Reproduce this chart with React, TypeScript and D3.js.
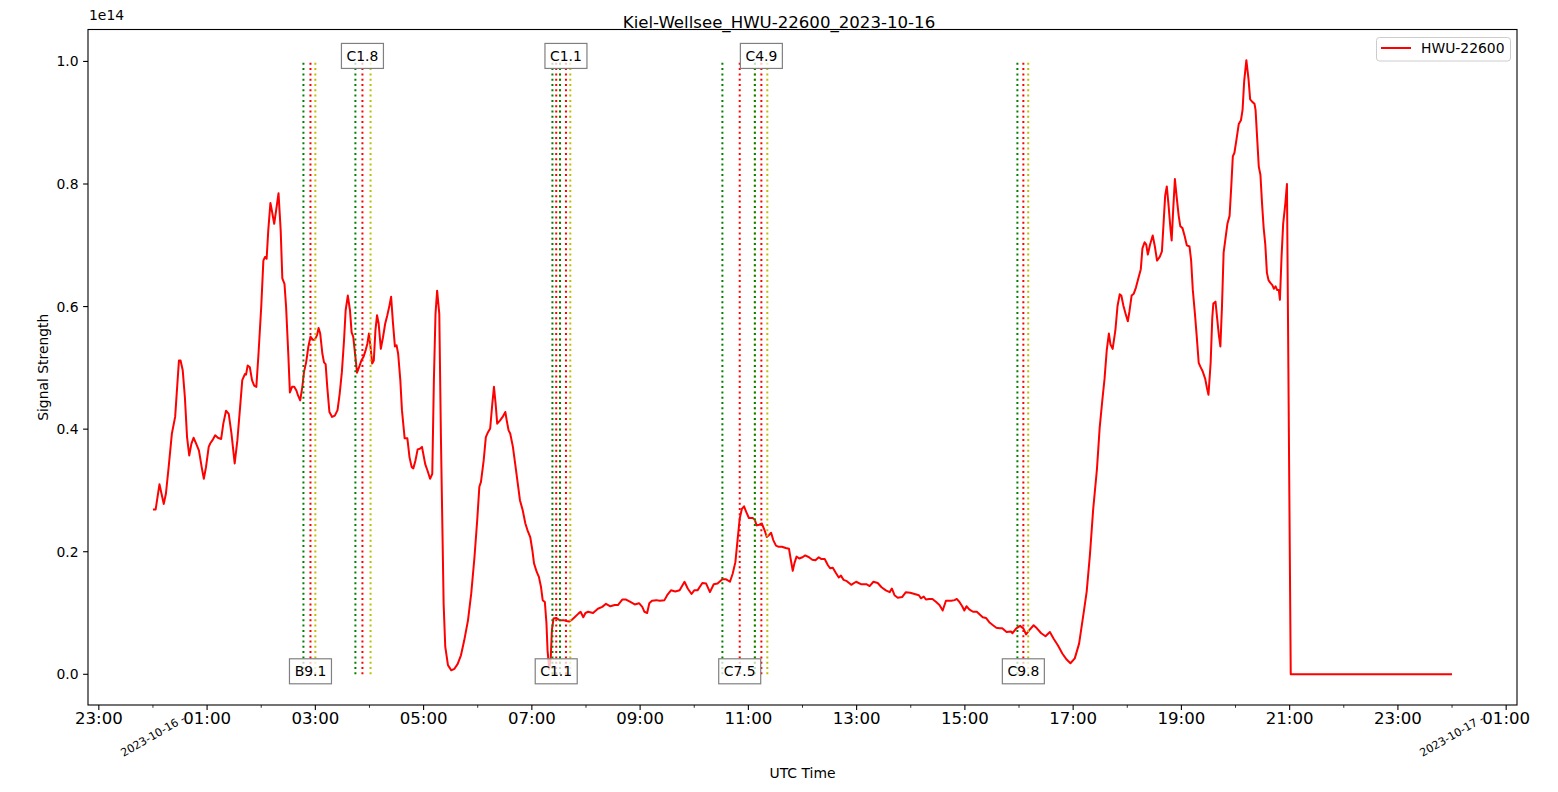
import * as d3 from 'd3';

const WIDTH = 1558;
const HEIGHT = 792;
const MARGIN = { top: 29.5, right: 41, bottom: 87, left: 88 };
const FONT = 'DejaVu Sans, sans-serif';

const TITLE = 'Kiel-Wellsee_HWU-22600_2023-10-16';
const SERIES_NAME = 'HWU-22600';
const DAY0 = Date.UTC(2023, 9, 16);

// hours since 2023-10-16 00:00 UTC
const HOURS = [
  0.0, 0.05, 0.12, 0.2, 0.24, 0.29, 0.35, 0.41, 0.48, 0.51, 0.55, 0.59, 0.63, 0.67, 0.71, 0.75, 0.8, 0.85, 0.9, 0.94,
  0.98, 1.03, 1.06, 1.1, 1.15, 1.2, 1.26, 1.3, 1.35, 1.4, 1.45, 1.51, 1.56, 1.61, 1.65, 1.7, 1.72, 1.75, 1.79, 1.83,
  1.87, 1.91, 1.95, 2.0, 2.04, 2.07, 2.1, 2.13, 2.17, 2.19, 2.24, 2.28, 2.32, 2.36, 2.39, 2.43, 2.46, 2.5, 2.53, 2.57,
  2.61, 2.65, 2.68, 2.72, 2.76, 2.79, 2.83, 2.87, 2.91, 2.95, 2.99, 3.03, 3.06, 3.09, 3.13, 3.16, 3.19, 3.22, 3.26, 3.31,
  3.36, 3.41, 3.45, 3.49, 3.53, 3.56, 3.6, 3.64, 3.67, 3.7, 3.74, 3.77, 3.82, 3.85, 3.89, 3.93, 3.96, 3.99, 4.02, 4.05,
  4.08, 4.11, 4.14, 4.17, 4.21, 4.25, 4.29, 4.33, 4.37, 4.4, 4.43, 4.47, 4.5, 4.53, 4.57, 4.6, 4.65, 4.7, 4.74, 4.78,
  4.81, 4.85, 4.89, 4.93, 4.97, 5.0, 5.03, 5.07, 5.12, 5.16, 5.19, 5.22, 5.25, 5.29, 5.32, 5.35, 5.37, 5.4, 5.45, 5.51,
  5.57, 5.63, 5.69, 5.75, 5.82, 5.88, 5.94, 5.99, 6.03, 6.06, 6.11, 6.15, 6.19, 6.23, 6.27, 6.3, 6.33, 6.36, 6.41, 6.46,
  6.51, 6.54, 6.57, 6.6, 6.65, 6.7, 6.74, 6.78, 6.83, 6.88, 6.92, 6.97, 7.01, 7.04, 7.09, 7.13, 7.17, 7.2, 7.24, 7.27,
  7.29, 7.32, 7.35, 7.37, 7.4, 7.45, 7.5, 7.55, 7.6, 7.64, 7.69, 7.74, 7.79, 7.86, 7.9, 7.95, 7.99, 8.04, 8.13, 8.22,
  8.3, 8.37, 8.45, 8.53, 8.59, 8.67, 8.74, 8.82, 8.9, 8.98, 9.04, 9.08, 9.13, 9.17, 9.22, 9.3, 9.36, 9.45, 9.5, 9.57,
  9.65, 9.73, 9.82, 9.88, 9.95, 10.0, 10.06, 10.15, 10.22, 10.29, 10.36, 10.43, 10.52, 10.59, 10.66, 10.71, 10.76, 10.8, 10.84, 10.88,
  10.92, 10.96, 11.01, 11.08, 11.12, 11.15, 11.2, 11.25, 11.3, 11.34, 11.38, 11.42, 11.46, 11.51, 11.56, 11.62, 11.69, 11.75, 11.78, 11.82,
  11.85, 11.89, 11.94, 12.0, 12.05, 12.12, 12.18, 12.24, 12.3, 12.35, 12.41, 12.47, 12.51, 12.56, 12.62, 12.67, 12.71, 12.76, 12.82, 12.9,
  12.99, 13.08, 13.18, 13.24, 13.31, 13.39, 13.46, 13.54, 13.61, 13.65, 13.7, 13.76, 13.84, 13.91, 13.99, 14.07, 14.15, 14.19, 14.24, 14.28,
  14.34, 14.4, 14.47, 14.53, 14.59, 14.65, 14.75, 14.81, 14.85, 14.9, 14.95, 14.99, 15.03, 15.08, 15.15, 15.22, 15.27, 15.33, 15.39, 15.45,
  15.52, 15.58, 15.64, 15.69, 15.77, 15.85, 15.88, 15.95, 16.02, 16.08, 16.13, 16.19, 16.27, 16.33, 16.41, 16.49, 16.57, 16.64, 16.72, 16.8,
  16.88, 16.95, 17.03, 17.11, 17.2, 17.25, 17.31, 17.37, 17.44, 17.49, 17.54, 17.58, 17.62, 17.66, 17.69, 17.73, 17.78, 17.82, 17.86, 17.89,
  17.93, 17.97, 18.01, 18.04, 18.08, 18.12, 18.16, 18.21, 18.25, 18.28, 18.32, 18.35, 18.38, 18.42, 18.47, 18.51, 18.55, 18.6, 18.64, 18.67,
  18.7, 18.73, 18.76, 18.8, 18.82, 18.85, 18.88, 18.91, 18.95, 18.98, 19.02, 19.06, 19.1, 19.15, 19.18, 19.21, 19.25, 19.28, 19.32, 19.35,
  19.39, 19.44, 19.47, 19.5, 19.54, 19.57, 19.59, 19.63, 19.66, 19.69, 19.72, 19.75, 19.78, 19.82, 19.85, 19.89, 19.92, 19.95, 19.98, 20.02,
  20.06, 20.1, 20.13, 20.16, 20.2, 20.24, 20.27, 20.31, 20.35, 20.37, 20.4, 20.43, 20.46, 20.49, 20.52, 20.55, 20.58, 20.61, 20.64, 20.68,
  20.71, 20.74, 20.77, 20.8, 20.82, 20.85, 20.88, 20.92, 20.95, 21.02, 24.0,
];

// signal strength, units of 1e14
const SIGNAL = [
  0.269, 0.269, 0.31, 0.278, 0.295, 0.338, 0.393, 0.42, 0.512, 0.512, 0.496, 0.452, 0.387, 0.357, 0.376, 0.386, 0.376, 0.365, 0.338, 0.319,
  0.338, 0.371, 0.377, 0.382, 0.39, 0.386, 0.384, 0.409, 0.43, 0.425, 0.393, 0.344, 0.382, 0.436, 0.48, 0.49, 0.489, 0.504, 0.501, 0.48,
  0.471, 0.469, 0.523, 0.599, 0.675, 0.681, 0.678, 0.724, 0.769, 0.76, 0.735, 0.76, 0.785, 0.724, 0.646, 0.637, 0.599, 0.523, 0.46, 0.469,
  0.469, 0.463, 0.455, 0.447, 0.469, 0.493, 0.509, 0.534, 0.551, 0.546, 0.546, 0.553, 0.565, 0.556, 0.523, 0.509, 0.506, 0.469, 0.428, 0.42,
  0.422, 0.431, 0.458, 0.493, 0.545, 0.594, 0.618, 0.594, 0.558, 0.551, 0.518, 0.492, 0.504, 0.512, 0.518, 0.529, 0.539, 0.556, 0.534, 0.507,
  0.512, 0.561, 0.586, 0.572, 0.531, 0.55, 0.572, 0.586, 0.602, 0.616, 0.578, 0.535, 0.537, 0.523, 0.48, 0.431, 0.385, 0.385, 0.354, 0.338,
  0.336, 0.349, 0.367, 0.368, 0.371, 0.357, 0.343, 0.333, 0.319, 0.327, 0.48, 0.588, 0.626, 0.588, 0.387, 0.224, 0.115, 0.045, 0.015, 0.0065,
  0.009, 0.017, 0.031, 0.055, 0.088, 0.132, 0.191, 0.251, 0.306, 0.314, 0.349, 0.387, 0.395, 0.401, 0.442, 0.469, 0.442, 0.409, 0.414, 0.42,
  0.428, 0.412, 0.398, 0.393, 0.371, 0.338, 0.311, 0.284, 0.268, 0.246, 0.235, 0.224, 0.202, 0.181, 0.167, 0.159, 0.142, 0.121, 0.118, 0.083,
  0.039, 0.009, 0.028, 0.072, 0.091, 0.092, 0.089, 0.088, 0.088, 0.087, 0.086, 0.089, 0.093, 0.099, 0.102, 0.093, 0.1, 0.102, 0.1, 0.107,
  0.11, 0.115, 0.111, 0.113, 0.113, 0.122, 0.122, 0.118, 0.114, 0.116, 0.11, 0.102, 0.1, 0.116, 0.12, 0.121, 0.12, 0.121, 0.129, 0.137,
  0.135, 0.137, 0.151, 0.14, 0.131, 0.137, 0.137, 0.149, 0.148, 0.134, 0.147, 0.148, 0.155, 0.155, 0.151, 0.164, 0.183, 0.219, 0.254, 0.27,
  0.274, 0.265, 0.255, 0.255, 0.252, 0.243, 0.244, 0.246, 0.235, 0.224, 0.227, 0.231, 0.219, 0.21, 0.208, 0.208, 0.206, 0.205, 0.189, 0.169,
  0.181, 0.192, 0.189, 0.191, 0.194, 0.191, 0.187, 0.186, 0.191, 0.188, 0.188, 0.178, 0.173, 0.174, 0.165, 0.158, 0.161, 0.154, 0.152, 0.146,
  0.151, 0.147, 0.147, 0.144, 0.151, 0.149, 0.142, 0.137, 0.134, 0.14, 0.129, 0.125, 0.126, 0.134, 0.133, 0.131, 0.129, 0.124, 0.127, 0.122,
  0.123, 0.123, 0.118, 0.113, 0.104, 0.12, 0.12, 0.121, 0.123, 0.118, 0.111, 0.104, 0.111, 0.106, 0.102, 0.102, 0.098, 0.093, 0.092, 0.085,
  0.08, 0.076, 0.075, 0.075, 0.069, 0.07, 0.067, 0.075, 0.079, 0.075, 0.065, 0.072, 0.08, 0.075, 0.067, 0.062, 0.069, 0.058, 0.047, 0.034,
  0.024, 0.018, 0.026, 0.05, 0.104, 0.135, 0.195, 0.269, 0.335, 0.402, 0.448, 0.482, 0.528, 0.556, 0.538, 0.531, 0.561, 0.601, 0.62, 0.618,
  0.601, 0.588, 0.576, 0.592, 0.618, 0.621, 0.631, 0.648, 0.661, 0.695, 0.705, 0.701, 0.685, 0.701, 0.716, 0.698, 0.675, 0.681, 0.69, 0.735,
  0.781, 0.796, 0.768, 0.725, 0.708, 0.761, 0.808, 0.781, 0.748, 0.731, 0.728, 0.715, 0.7, 0.698, 0.675, 0.628, 0.588, 0.555, 0.508, 0.502,
  0.495, 0.482, 0.468, 0.456, 0.508, 0.581, 0.605, 0.608, 0.581, 0.555, 0.535, 0.601, 0.688, 0.715, 0.735, 0.748, 0.794, 0.845, 0.851, 0.874,
  0.898, 0.904, 0.921, 0.968, 1.002, 0.971, 0.938, 0.934, 0.931, 0.921, 0.874, 0.828, 0.815, 0.768, 0.728, 0.701, 0.655, 0.643, 0.639, 0.635,
  0.629, 0.633, 0.627, 0.627, 0.611, 0.681, 0.735, 0.768, 0.8, 0.0, 0.0,
];

// solar flares (GOES class, start / peak / end in hours)
const FLARE_CLASS = ['B9.1', 'C1.8', 'C1.1', 'C1.1', 'C7.5', 'C4.9', 'C9.8'];
const FLARE_START = [2.78, 3.74, 7.38, 7.52, 10.52, 11.12, 15.97];
const FLARE_PEAK = [2.91, 3.87, 7.45, 7.63, 10.84, 11.24, 16.08];
const FLARE_END = [3.0, 4.02, 7.52, 7.71, 11.12, 11.35, 16.17];

const Y_TICKS = [0.0, 0.2, 0.4, 0.6, 0.8, 1.0];

const toDate = (h: number) => new Date(DAY0 + h * 3600e3);

const App = () => {
  const boundsWidth = WIDTH - MARGIN.left - MARGIN.right;
  const boundsHeight = HEIGHT - MARGIN.top - MARGIN.bottom;

  const data = HOURS.map((h, i) => ({ t: toDate(h), v: SIGNAL[i] }));

  // x axis, matplotlib style 5% margins
  const [h0, h1] = d3.extent(HOURS) as [number, number];
  const hPad = (h1 - h0) * 0.05;
  const xScale = d3
    .scaleUtc()
    .domain([toDate(h0 - hPad), toDate(h1 + hPad)])
    .range([0, boundsWidth]);

  const [v0, v1] = d3.extent(SIGNAL) as [number, number];
  const vPad = (v1 - v0) * 0.05;
  const yScale = d3
    .scaleLinear()
    .domain([v0 - vPad, v1 + vPad])
    .range([boundsHeight, 0]);

  const allHours = d3.utcHour.range(xScale.domain()[0], xScale.domain()[1]);
  const majorTicks = allHours.filter((d) => d.getUTCHours() % 2 === 1);
  const minorTicks = allHours.filter((d) => d.getUTCHours() % 2 === 0);
  const fmtHour = d3.utcFormat('%H:%M');
  const fmtDay = d3.utcFormat('%Y-%m-%d');

  const lineBuilder = d3
    .line<{ t: Date; v: number }>()
    .x((d) => xScale(d.t))
    .y((d) => yScale(d.v));
  const linePath = lineBuilder(data);

  const flareColors = ['#008000', '#ff0000', '#bfbf00'];

  return (
    <svg
      width={WIDTH}
      height={HEIGHT}
      style={{ position: 'absolute', left: 0, top: 0, background: '#fff' }}
      fontFamily={FONT}
    >
      <rect width={WIDTH} height={HEIGHT} fill="#fff" />
      <text x={779} y={27.7} textAnchor="middle" fontSize={16.6} fill="#000">
        {TITLE}
      </text>
      <g transform={`translate(${MARGIN.left},${MARGIN.top})`}>
        {/* signal */}
        <path d={linePath || ''} fill="none" stroke="#ff0000" strokeWidth={2} strokeLinejoin="round" />

        {/* flare start / peak / end lines */}
        {FLARE_CLASS.map((cls, i) =>
          [FLARE_START[i], FLARE_PEAK[i], FLARE_END[i]].map((h, j) => (
            <line
              key={cls + i + '-' + j}
              x1={xScale(toDate(h))}
              x2={xScale(toDate(h))}
              y1={yScale(0)}
              y2={yScale(1)}
              stroke={flareColors[j]}
              strokeWidth={2}
              strokeDasharray="2,3.3"
            />
          ))
        )}

        {/* flare labels */}
        {FLARE_CLASS.map((cls, i) => {
          const top = i % 2 === 1;
          const cx = xScale(toDate(FLARE_PEAK[i]));
          const cy = top ? yScale(1) - 5.5 : yScale(0) - 3;
          return (
            <g key={'lab' + i}>
              <rect
                x={cx - 21}
                y={cy - 12.5}
                width={42}
                height={25}
                fill="#fff"
                fillOpacity={0.75}
                stroke="#808080"
                strokeWidth={1.2}
              />
              <text x={cx} y={cy} textAnchor="middle" dominantBaseline="central" fontSize={13.9} fill="#000">
                {cls}
              </text>
            </g>
          );
        })}

        {/* frame */}
        <rect x={0} y={0} width={boundsWidth} height={boundsHeight} fill="none" stroke="#000" strokeWidth={1.1} />

        {/* y axis */}
        {Y_TICKS.map((t) => (
          <g key={'y' + t} transform={`translate(0,${yScale(t)})`}>
            <line x1={-4.9} x2={0} stroke="#000" strokeWidth={1.1} />
            <text x={-9.5} textAnchor="end" dominantBaseline="central" fontSize={13.9} fill="#000">
              {t.toFixed(1)}
            </text>
          </g>
        ))}
        <text x={1} y={-9.5} fontSize={13.9} fill="#000">
          1e14
        </text>

        {/* x axis */}
        {majorTicks.map((d) => (
          <g key={'xM' + d.getTime()} transform={`translate(${xScale(d)},${boundsHeight})`}>
            <line y1={0} y2={4.9} stroke="#000" strokeWidth={1.1} />
            <text y={19} textAnchor="middle" fontSize={16.6} fill="#000">
              {fmtHour(d)}
            </text>
          </g>
        ))}
        {minorTicks.map((d) => (
          <g key={'xm' + d.getTime()} transform={`translate(${xScale(d)},${boundsHeight})`}>
            <line y1={0} y2={2.8} stroke="#000" strokeWidth={0.8} />
            {d.getUTCHours() === 0 && (
              <text
                transform={`translate(0,31) rotate(-30)`}
                textAnchor="middle"
                dominantBaseline="central"
                fontSize={11.1}
                fill="#000"
              >
                {fmtDay(d) + ' -'}
              </text>
            )}
          </g>
        ))}

        {/* legend */}
        <g transform={`translate(${boundsWidth - 140.5},8)`}>
          <rect x={0} y={0} width={134} height={23.5} rx={3} fill="#fff" fillOpacity={0.8} stroke="#cccccc" />
          <line x1={4.5} x2={34.5} y1={10.5} y2={10.5} stroke="#ff0000" strokeWidth={2} />
          <text x={44.5} y={10.5} dominantBaseline="central" fontSize={13.9} fill="#000">
            {SERIES_NAME}
          </text>
        </g>
      </g>

      <text
        transform={`translate(43,${MARGIN.top + boundsHeight / 2}) rotate(-90)`}
        textAnchor="middle"
        dominantBaseline="central"
        fontSize={13.9}
        fill="#000"
      >
        Signal Strength
      </text>
      <text x={MARGIN.left + boundsWidth / 2} y={773} textAnchor="middle" dominantBaseline="central" fontSize={13.9} fill="#000">
        UTC Time
      </text>
    </svg>
  );
};

export default App;
